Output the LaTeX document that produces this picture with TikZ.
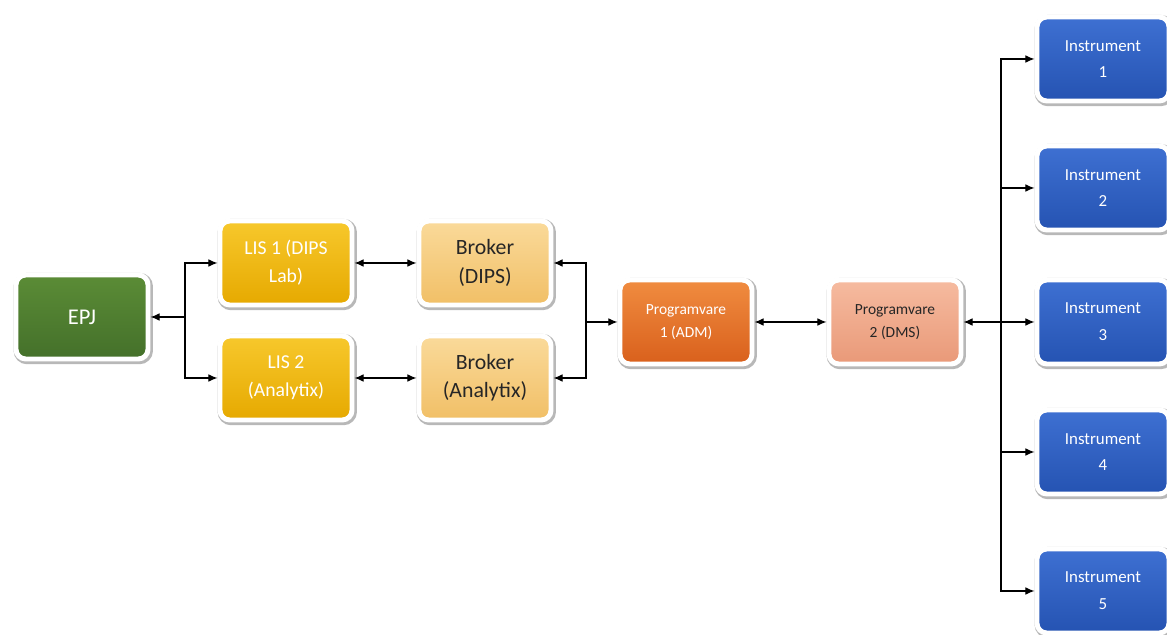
\documentclass[tikz,border=0pt]{standalone}
\usepackage{fontspec}
\setmainfont{Carlito}
\usetikzlibrary{shadows,arrows.meta}
\definecolor{epjtop}{HTML}{5B8C36}
\definecolor{epjbot}{HTML}{44702A}
\definecolor{listop}{HTML}{F7C82C}
\definecolor{lisbot}{HTML}{E6A900}
\definecolor{brotop}{HTML}{FADA9A}
\definecolor{brobot}{HTML}{F1BF66}
\definecolor{p1top}{HTML}{F08C40}
\definecolor{p1bot}{HTML}{D9601C}
\definecolor{p2top}{HTML}{F6BBA0}
\definecolor{p2bot}{HTML}{E99978}
\definecolor{instop}{HTML}{3E70D2}
\definecolor{insbot}{HTML}{2553B2}

\begin{document}
\begin{tikzpicture}[x=0.025cm,y=-0.025cm,>={Latex[length=6.5pt,width=5.5pt]},
    boks/.style={draw=white,line width=3.5pt,rounded corners=7pt,
        minimum width=3.3cm,minimum height=2.1cm,align=center,
        drop shadow={opacity=0.28,shadow xshift=0.9pt,shadow yshift=-1.1pt,
            fill=black,draw=black,line width=5.2pt}},
    pil/.style={line width=0.8pt,black}]
    \useasboundingbox (0,0) rectangle (1167,635);
    % boxes
    \node[boks,top color=epjtop,bottom color=epjbot,text=white,font=\fontsize{16}{19}\selectfont] (epj) at (82,317) {EPJ};
    \node[boks,top color=listop,bottom color=lisbot,text=white,font=\fontsize{14}{20}\selectfont] (lis1) at (286,263) {LIS 1 (DIPS\\Lab)};
    \node[boks,top color=listop,bottom color=lisbot,text=white,font=\fontsize{14}{20}\selectfont] (lis2) at (286,378) {LIS 2\\(Analytix)};
    \node[boks,top color=brotop,bottom color=brobot,text=black!85,font=\fontsize{15.5}{20}\selectfont] (brok1) at (485,263) {Broker\\(DIPS)};
    \node[boks,top color=brotop,bottom color=brobot,text=black!85,font=\fontsize{15.5}{20}\selectfont] (brok2) at (485,378) {Broker\\(Analytix)};
    \node[boks,top color=p1top,bottom color=p1bot,text=white,font=\fontsize{11}{16}\selectfont] (prog1) at (686,322) {Programvare\\1 (ADM)};
    \node[boks,top color=p2top,bottom color=p2bot,text=black!85,font=\fontsize{11}{16}\selectfont] (prog2) at (895,322) {Programvare\\2 (DMS)};
    \foreach \i/\y in {1/59,2/188,3/322,4/452,5/591}{
        \node[boks,top color=instop,bottom color=insbot,text=white,font=\fontsize{12}{19}\selectfont] (ins\i) at (1103,\y) {Instrument\\\i};
    }
    % connectors
    \coordinate (v1) at (185,317);
    \coordinate (v2) at (586,322);
    \coordinate (v3) at (1001,322);
    \draw[pil,->] (v1) -- (epj);
    \draw[pil,->] (v1) |- (lis1);
    \draw[pil,->] (v1) |- (lis2);
    \draw[pil,<->] (lis1) -- (brok1);
    \draw[pil,<->] (lis2) -- (brok2);
    \draw[pil,->] (v2) |- (brok1);
    \draw[pil,->] (v2) |- (brok2);
    \draw[pil,->] (v2) -- (prog1);
    \draw[pil,<->] (prog1) -- (prog2);
    \draw[pil,->] (v3) -- (prog2);
    \foreach \i in {1,...,5}{
        \draw[pil,->] (v3) |- (ins\i);
    }
\end{tikzpicture}
\end{document}
